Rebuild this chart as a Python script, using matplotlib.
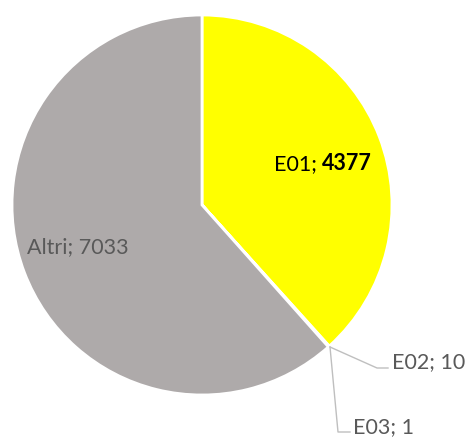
import matplotlib
matplotlib.use("Agg")
import matplotlib.pyplot as plt
from matplotlib.lines import Line2D

labels = ["E01", "E02", "E03", "Altri"]
values = [4377, 10, 1, 7033]
colors = ["#FFFF00", "#A5A5A5", "#4472C4", "#AEAAAA"]

W, H = 470, 437
fig = plt.figure(figsize=(W / 100, H / 100), dpi=100)
plt.rcParams['font.family'] = ['Lato', 'DejaVu Sans']

cx, cy, r = 202, 205, 190
ax = fig.add_axes([(cx - r) / W, (H - cy - r) / H, 2 * r / W, 2 * r / H])
ax.pie(values, colors=colors, startangle=90, counterclock=False, radius=1,
       wedgeprops=dict(edgecolor="white", linewidth=2))
ax.set_xlim(-1, 1)
ax.set_ylim(-1, 1)
ax.axis("off")


def px(x, y):
    return x / W, 1 - y / H


fs = 15.5
txtc = "#595959"
fig.text(*px(317, 164), f"{labels[0]};", ha="right", va="center", fontsize=fs, color="black")
fig.text(*px(322, 164), f"{values[0]}", ha="left", va="center", fontsize=fs, color="black", fontweight="bold")
fig.text(*px(27, 247), f"{labels[3]}; {values[3]}", ha="left", va="center", fontsize=fs, color=txtc)
fig.text(*px(392, 362), f"{labels[1]}; {values[1]}", ha="left", va="center", fontsize=fs, color=txtc)
fig.text(*px(353, 427), f"{labels[2]}; {values[2]}", ha="left", va="center", fontsize=fs, color=txtc)

lc = "#BFBFBF"
for pts in ([(330, 347), (377, 368), (388, 368)], [(330, 347), (338, 432), (350, 432)]):
    xs = [px(*p)[0] for p in pts]
    ys = [px(*p)[1] for p in pts]
    fig.add_artist(Line2D(xs, ys, transform=fig.transFigure, color=lc, linewidth=1))

fig.savefig("out.png", dpi=100, facecolor="white")
